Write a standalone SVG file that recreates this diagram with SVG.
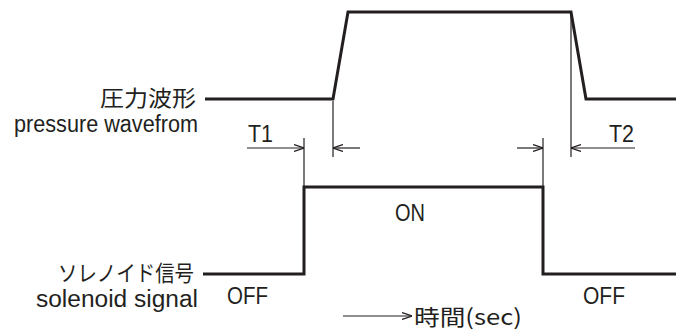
<svg xmlns="http://www.w3.org/2000/svg" width="682" height="332" viewBox="0 0 682 332">
<style>
.wave{fill:none;stroke:#231f20;stroke-width:3;stroke-linejoin:miter}
.dim{fill:none;stroke:#231f20;stroke-width:1.2}
text{font-family:"Liberation Sans","Noto Sans CJK JP",sans-serif;fill:#231f20;font-size:23px}
.jp{font-family:"Noto Sans CJK JP",sans-serif;font-size:22px}
</style>
<defs>
<marker id="ah" viewBox="0 0 10 8" refX="10" refY="4" markerWidth="10" markerHeight="8" markerUnits="userSpaceOnUse" orient="auto">
<path d="M0,0.5 L10,4 L0,7.5" fill="none" stroke="#231f20" stroke-width="1.2"/>
</marker>
</defs>
<g id="pressure-label">
<text class="jp" x="100" y="106" textLength="96" lengthAdjust="spacingAndGlyphs">圧力波形</text>
<text x="14" y="132" textLength="184" lengthAdjust="spacingAndGlyphs">pressure wavefrom</text>
</g>
<g id="solenoid-label">
<text class="jp" x="58" y="281" textLength="136" lengthAdjust="spacingAndGlyphs">ソレノイド信号</text>
<text x="36" y="307" textLength="162" lengthAdjust="spacingAndGlyphs">solenoid signal</text>
</g>
<g id="pressure-wave">
<path class="wave" d="M205,99 L333,99 L348,12 L571,12 L586,99 L676,99"/>
</g>
<g id="solenoid-wave">
<path class="wave" d="M203,274 L304,274 L304,187 L543,187 L543,274 L676,274"/>
</g>
<g id="labels">
<text x="248" y="142" textLength="25" lengthAdjust="spacingAndGlyphs">T1</text>
<text x="609" y="142" textLength="25" lengthAdjust="spacingAndGlyphs">T2</text>
<text x="395" y="221" textLength="30" lengthAdjust="spacingAndGlyphs">ON</text>
<text x="227" y="304" textLength="41" lengthAdjust="spacingAndGlyphs">OFF</text>
<text x="583" y="304" textLength="42" lengthAdjust="spacingAndGlyphs">OFF</text>
<text class="jp" x="414" y="325" textLength="108" lengthAdjust="spacingAndGlyphs">時間(sec)</text>
</g>
<g id="connectors">
<line class="dim" x1="333" y1="101" x2="333" y2="157"/>
<line class="dim" x1="304" y1="138" x2="304" y2="187"/>
<line class="dim" x1="543" y1="138" x2="543" y2="187"/>
<line class="dim" x1="571" y1="12" x2="571" y2="157"/>
<line class="dim" x1="247" y1="148" x2="304" y2="148" marker-end="url(#ah)"/>
<line class="dim" x1="360" y1="148" x2="333" y2="148" marker-end="url(#ah)"/>
<line class="dim" x1="517" y1="148" x2="543" y2="148" marker-end="url(#ah)"/>
<line class="dim" x1="635" y1="148" x2="571" y2="148" marker-end="url(#ah)"/>
<line class="dim" x1="343" y1="316" x2="412" y2="316" marker-end="url(#ah)"/>
</g>
</svg>
